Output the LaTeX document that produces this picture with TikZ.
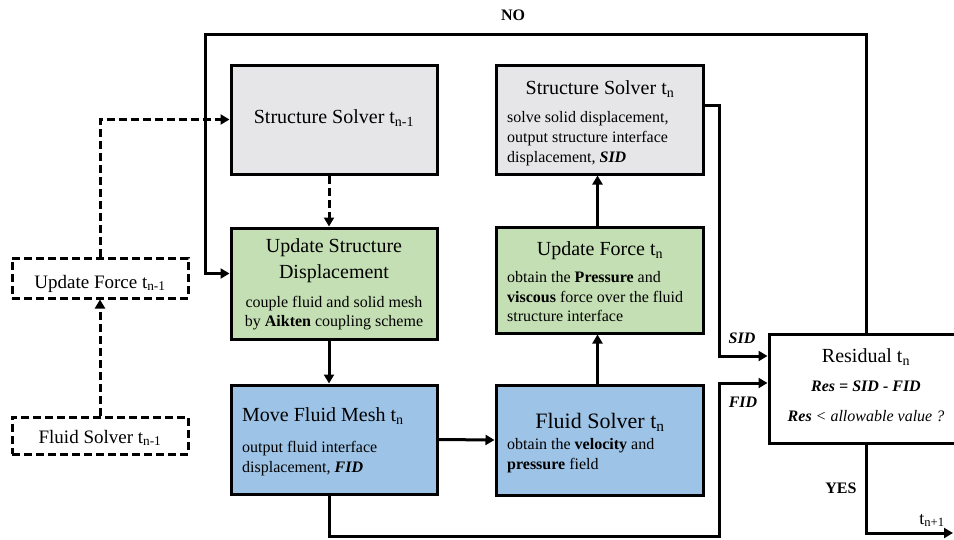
\documentclass[tikz,border=0pt]{standalone}
\usepackage{fontspec}
\setmainfont{Liberation Serif}
\usetikzlibrary{arrows.meta}
\definecolor{graybox}{HTML}{E6E5E7}
\definecolor{greenbox}{HTML}{C5DFB4}
\definecolor{bluebox}{HTML}{9DC3E6}
\begin{document}
\begin{tikzpicture}[x=1pt,y=-1pt,
  box/.style={draw,line width=3pt,inner sep=0pt},
  dbox/.style={draw,line width=3pt,inner sep=0pt,dash pattern=on 8pt off 4pt},
  conn/.style={line width=3pt,-{Triangle[length=9pt,width=10pt]}},
  dconn/.style={conn,dash pattern=on 8pt off 4pt},
  txt/.style={inner sep=0pt,anchor=base},
  ltxt/.style={inner sep=0pt,anchor=base west},
  ttl/.style={font=\fontsize{20}{24}\selectfont},
  bdy/.style={font=\fontsize{16}{20}\selectfont},
]
\fill[white] (0,0) rectangle (954,539);
\useasboundingbox (0,0) rectangle (954,539);

% boxes
\node[box,fill=graybox,minimum width=206pt,minimum height=109pt] (ssp) at (334,119.5) {};
\node[box,fill=greenbox,minimum width=206pt,minimum height=111pt] (usd) at (334,283.5) {};
\node[box,fill=bluebox,minimum width=206pt,minimum height=109pt] (mfm) at (334,439.5) {};
\node[box,fill=graybox,minimum width=207pt,minimum height=109pt] (ssn) at (599.5,119.5) {};
\node[box,fill=greenbox,minimum width=207pt,minimum height=106pt] (ufn) at (599.5,280) {};
\node[box,fill=bluebox,minimum width=207pt,minimum height=110pt] (fsn) at (599.5,440) {};
\node[box,fill=white,minimum width=220pt,minimum height=109pt] (res) at (879,388.5) {};
\node[dbox,minimum width=176pt,minimum height=40pt] (ufp) at (100,278) {};
\node[dbox,minimum width=176pt,minimum height=37pt] (fsp) at (100,435.5) {};

% texts
\node[txt,ttl] (t1) at (334,123) {Structure Solver t\textsubscript{n-1}};

\node[txt,ttl] (t2) at (600,94) {Structure Solver t\textsubscript{n}};
\node[ltxt,bdy] (t2a) at (507,122) {solve solid displacement,};
\node[ltxt,bdy] (t2b) at (507,142) {output structure interface};
\node[ltxt,bdy] (t2c) at (507,162) {displacement, \textbf{\textit{SID}}};

\node[txt,ttl] (t3) at (334,252) {Update Structure};
\node[txt,ttl] (t3b) at (334,278) {Displacement};
\node[txt,bdy] (t3c) at (334,307) {couple fluid and solid mesh};
\node[txt,bdy] (t3d) at (334,326) {by \textbf{Aikten} coupling scheme};

\node[txt,ttl] (t4) at (600,255) {Update Force t\textsubscript{n}};
\node[ltxt,bdy] (t4a) at (507,282) {obtain the \textbf{Pressure} and};
\node[ltxt,bdy] (t4b) at (507,302) {\textbf{viscous} force over the fluid};
\node[ltxt,bdy] (t4c) at (507,321) {structure interface};

\node[ltxt,ttl] (t5) at (242,421) {Move Fluid Mesh t\textsubscript{n}};
\node[ltxt,bdy] (t5a) at (242,452) {output fluid interface};
\node[ltxt,bdy] (t5b) at (242,472) {displacement, \textbf{\textit{FID}}};

\node[txt,font=\fontsize{22}{26}\selectfont] (t6) at (600,428) {Fluid Solver t\textsubscript{n}};
\node[ltxt,bdy] (t6a) at (507,449) {obtain the \textbf{velocity} and};
\node[ltxt,bdy] (t6b) at (507,469) {\textbf{pressure} field};

\node[txt,ttl] (t7) at (866,362) {Residual t\textsubscript{n}};
\node[txt,bdy] (t7a) at (866,391) {\textbf{\textit{Res = SID - FID}}};
\node[txt,bdy] (t7b) at (866,421) {\textbf{\textit{Res}} \textit{< allowable value ?}};

\node[txt,font=\fontsize{19}{23}\selectfont] (t8) at (100,288) {Update Force t\textsubscript{n-1}};
\node[txt,font=\fontsize{19}{23}\selectfont] (t9) at (100,443) {Fluid Solver t\textsubscript{n-1}};

\node[txt,bdy] (lno) at (513,20) {\textbf{NO}};
\node[txt,bdy] (lsid) at (742,343) {\textbf{\textit{SID}}};
\node[txt,bdy] (lfid) at (743,407) {\textbf{\textit{FID}}};
\node[txt,bdy] (lyes) at (841,493) {\textbf{YES}};
\node[txt,font=\fontsize{18}{22}\selectfont] (lt) at (932,524) {t\textsubscript{n+1}};

% connectors
\draw[dconn] (fsp.north) -- (ufp.south);
\draw[dconn] (ufp.north) |- (ssp.west);
\draw[dconn] ([xshift=-5pt]ssp.south) -- ([xshift=-5pt]usd.north);
\coordinate (noR) at (866,34);
\coordinate (noL) at (205,34);
\draw[conn] (res.north -| noR) -- (noR) -- (noL) |- ([yshift=10pt]usd.west);
\draw[conn] ([xshift=-5pt]usd.south) -- ([xshift=-5pt]mfm.north);
\draw[conn] (mfm.east) -- (fsn.west);
\draw[conn] ([xshift=-2pt]fsn.north) -- ([xshift=-2pt]ufn.south);
\draw[conn] ([xshift=-2pt]ufn.north) -- ([xshift=-2pt]ssn.south);
\coordinate (sidA) at (719,105);
\coordinate (sidB) at (719,356);
\draw[conn] ([yshift=14.5pt]ssn.east) -- (sidA) -- (sidB) -- (res.west |- sidB);
\coordinate (fidA) at (329,536);
\coordinate (fidB) at (719,536);
\coordinate (fidC) at (719,383);
\draw[conn] ([xshift=-5pt]mfm.south) -- (fidA) -- (fidB) -- (fidC) -- (res.west |- fidC);
\coordinate (yesA) at (866,533);
\coordinate (yesB) at (953,533);
\draw[conn] (res.south -| yesA) -- (yesA) -- (yesB);
\end{tikzpicture}
\end{document}
